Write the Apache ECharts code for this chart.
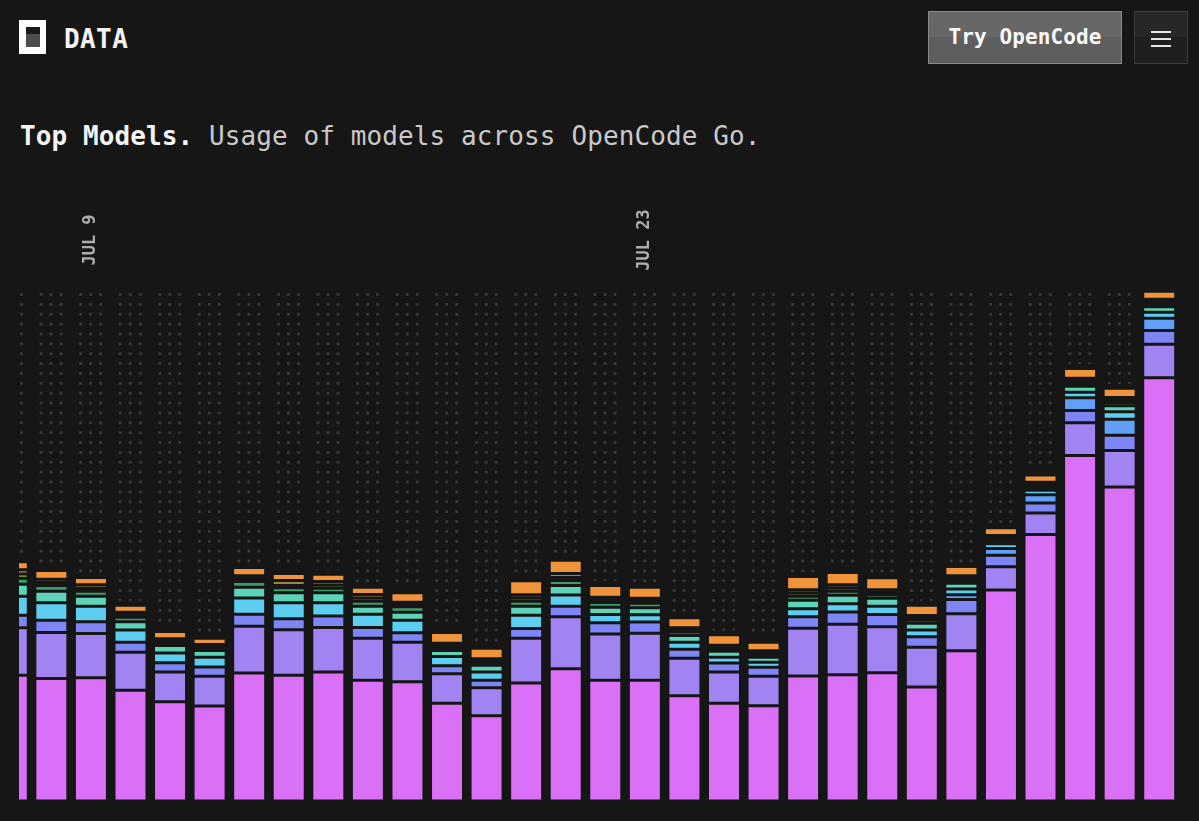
<!DOCTYPE html>
<html>
<head>
<meta charset="utf-8">
<script src="https://cdn.jsdelivr.net/npm/echarts@6/dist/echarts.min.js"></script>
<style>
  html, body { margin: 0; padding: 0; background: #161616; width: 1199px; height: 821px; overflow: hidden; }
  body { position: relative; font-family: "DejaVu Sans Mono", "Liberation Mono", monospace; }
  .logo { position: absolute; left: 19px; top: 20px; width: 27px; height: 34px; background: #ffffff; }
  .logo .win { position: absolute; left: 7px; top: 7px; width: 14px; height: 20px; background: #4d4d4d; }
  .logo .win::before { content: ""; position: absolute; left: 0; top: 0; width: 14px; height: 7px; background: #1a1a1a; }
  .brand { position: absolute; left: 64px; top: 26px; font-size: 26px; line-height: 26px; font-weight: bold; color: #f2f2f2; letter-spacing: 0.4px; }
  .title { position: absolute; left: 20px; top: 123px; font-size: 26px; line-height: 26px; color: #c9c9c9; white-space: nowrap; letter-spacing: 0.1px; }
  .title b { color: #f4f4f4; }
  .btn { position: absolute; left: 928px; top: 11px; width: 194px; height: 53px; box-sizing: border-box;
         border: 1px solid #8a8a8a; background: linear-gradient(#686868 0%, #666 50%, #5e5e5e 50%, #5e5e5e 100%);
         color: #fafafa; font-size: 21px; font-weight: bold; line-height: 51px; text-align: center; letter-spacing: 0.1px; }
  .menu { position: absolute; left: 1134px; top: 11px; width: 54px; height: 53px; box-sizing: border-box;
          border: 1px solid #3c3c3c; background: linear-gradient(#272727 0%, #272727 50%, #1f1f1f 50%, #1f1f1f 100%); }
  .menu i { position: absolute; left: 16px; width: 20px; height: 2px; background: #e6e6e6; }
  #wrap { position: absolute; left: 19px; top: 180px; width: 1180px; height: 640px; overflow: hidden; }
  #chart { position: absolute; left: -27.4px; top: 0; width: 1187.2px; height: 640px; }
</style>
</head>
<body>
<div class="logo"><div class="win"></div></div>
<div class="brand">DATA</div>
<div class="btn">Try OpenCode</div>
<div class="menu"><i style="top:19px"></i><i style="top:26px"></i><i style="top:33px"></i></div>
<div class="title"><b>Top Models.</b> Usage of models across OpenCode Go.</div>
<div id="wrap"><div id="chart"></div></div>
<script>
// Dates (one bar per day)
const categories = ['JUL 7','JUL 8','JUL 9','JUL 10','JUL 11','JUL 12','JUL 13','JUL 14','JUL 15','JUL 16',
  'JUL 17','JUL 18','JUL 19','JUL 20','JUL 21','JUL 22','JUL 23','JUL 24','JUL 25','JUL 26',
  'JUL 27','JUL 28','JUL 29','JUL 30','JUL 31','AUG 1','AUG 2','AUG 3','AUG 4','AUG 5'];

// Usage per model (stack order bottom -> top)
const model1 = [125.7,122.5,123.2,110.7,99.3,95,128,125.7,129,120.7,119.2,97.8,85.2,118,132.2,120.8,120.8,105.2,97.8,95.3,125,126.3,128.3,114,150.3,211,266.5,345.5,314,423.3];
const model2 = [47.5,46,44.3,38,29.7,29.8,46.8,45.5,44.5,42,39.5,29.5,28.1,44.7,52,46.2,46.9,37.6,31.2,29.5,47.7,50.4,45.9,39.7,37,23.3,21.5,32.8,36.5,33.4];
const model3 = [12.5,12.3,11.7,10,9.2,9.2,11.9,11,11.5,10.8,9.6,8,7.4,9.8,10.6,11.3,11.3,8.9,9,9,11.5,12.3,12.3,10.6,14.2,11.5,10,12.2,15.3,13.8];
const model4 = [0,0,0,0,0,0,0,0,0,0,0,0,0,0,0,0,0,0,0,0,0,0,0,0,4.7,6.7,8.3,12.7,15.9,12.3];
const model5 = [19,17.4,15.5,12.3,9.8,9.8,16.3,16,13.3,13.2,12.4,9.2,8.3,13.2,11.2,8.2,7.3,7,5.8,4.9,8,8.2,8.3,6.7,5.8,4.7,4.4,5.6,7.5,5.9];
const model6 = [12.1,11.6,10,8.2,7.5,6.7,10.8,10,9.9,8.1,8.1,6,6.8,9.1,9.5,7.3,6.9,6.8,6,5.1,8.5,8.5,8,6.8,5.8,3,2.5,6,6,5.5];
const model7 = [5.9,5.7,5.1,4.6,2.5,2,5.7,5,4.6,5,5.4,3,2.4,5,5,4.7,4.6,3.5,2.5,2.4,4.1,4.1,3.5,3.3,3,2,2,3,3.3,3];
const model8 = [4.3,3,3,2.5,2,2,2.8,2.3,3.3,3.3,2.3,2,2,3.2,3,2.6,2.5,2,1.7,2,3.2,3.2,2.4,2.2,2.2,1.5,1.7,2.5,2.5,2.3];
const model9 = [4.3,3.3,3.4,2.5,2.2,2,2.9,5,3.4,3.4,2.3,2.3,2,3.2,4,2.7,2.5,2.2,1.8,2,3.2,3.2,2.5,2.2,2.2,1.8,1.8,2.5,2.5,2.3];
const model10 = [7.9,8.7,7.3,7,7.3,6.3,8.3,7,7.3,7.3,9.4,10.7,10.6,14,13.2,11.7,11,10,10.4,8.6,13.3,12.3,12,10.3,9.3,7.7,7.3,9.7,9.3,8];

const seriesNames = ['Model 1','Model 2','Model 3','Model 4','Model 5','Model 6','Model 7','Model 8','Model 9','Model 10'];
const seriesData = [model1, model2, model3, model4, model5, model6, model7, model8, model9, model10];
const seriesColors = ['#da70f5','#a184f2','#7d86f4','#60a0f8','#5ecef0','#5dd4b8','#3f9a6c','#86b845','#9a8a3c','#f0943c'];

const Y_MAX = 510;
const BG = '#161616';

const totals = categories.map((c, i) => seriesData.reduce((s, arr) => s + arr[i], 0));

const dotSeries = {
  type: 'custom',
  name: 'grid-dots',
  silent: true,
  z: 1,
  data: totals.map((t, i) => [i, t]),
  renderItem: function (params, api) {
    const idx = api.value(0);
    const total = api.value(1);
    const cx = api.coord([idx, 0])[0];
    const topY = api.coord([idx, Y_MAX])[1];
    const clipY = api.coord([idx, total])[1] - 4.3;
    const size = 2.8;
    const children = [];
    for (let y = topY + 3.5 - size / 2; y < clipY; y += 9.87) {
      const h = Math.min(size, clipY - y);
      [-10.3, -0.3, 9.7].forEach(function (dx) {
        children.push({ type: 'rect', shape: { x: cx + dx - size / 2, y: y, width: size, height: h }, style: { fill: '#393939' } });
      });
    }
    return { type: 'group', children: children };
  }
};

const barSeries = seriesData.map((arr, k) => ({
  type: 'bar',
  name: seriesNames[k],
  stack: 'usage',
  data: arr,
  barWidth: 33,
  z: 2,
  itemStyle: { color: seriesColors[k], borderColor: BG, borderWidth: 1.5 }
}));

const chart = echarts.init(document.getElementById('chart'), null, { renderer: 'canvas' });
chart.setOption({
  animation: false,
  backgroundColor: 'transparent',
  grid: { left: 0, right: 0, top: 111, bottom: 19, containLabel: false },
  tooltip: { show: false },
  xAxis: {
    type: 'category',
    position: 'top',
    data: categories,
    axisLine: { show: false },
    axisTick: { show: false },
    splitLine: { show: false },
    axisLabel: {
      interval: function (index) { return index % 14 === 2; },
      rotate: 90,
      margin: 51,
      align: 'center',
      verticalAlign: 'middle',
      color: '#adadad',
      fontFamily: 'DejaVu Sans Mono',
      fontWeight: 'bold',
      fontSize: 17
    }
  },
  yAxis: { type: 'value', min: 0, max: Y_MAX, show: false, splitLine: { show: false } },
  series: [dotSeries].concat(barSeries)
});
</script>
</body>
</html>
